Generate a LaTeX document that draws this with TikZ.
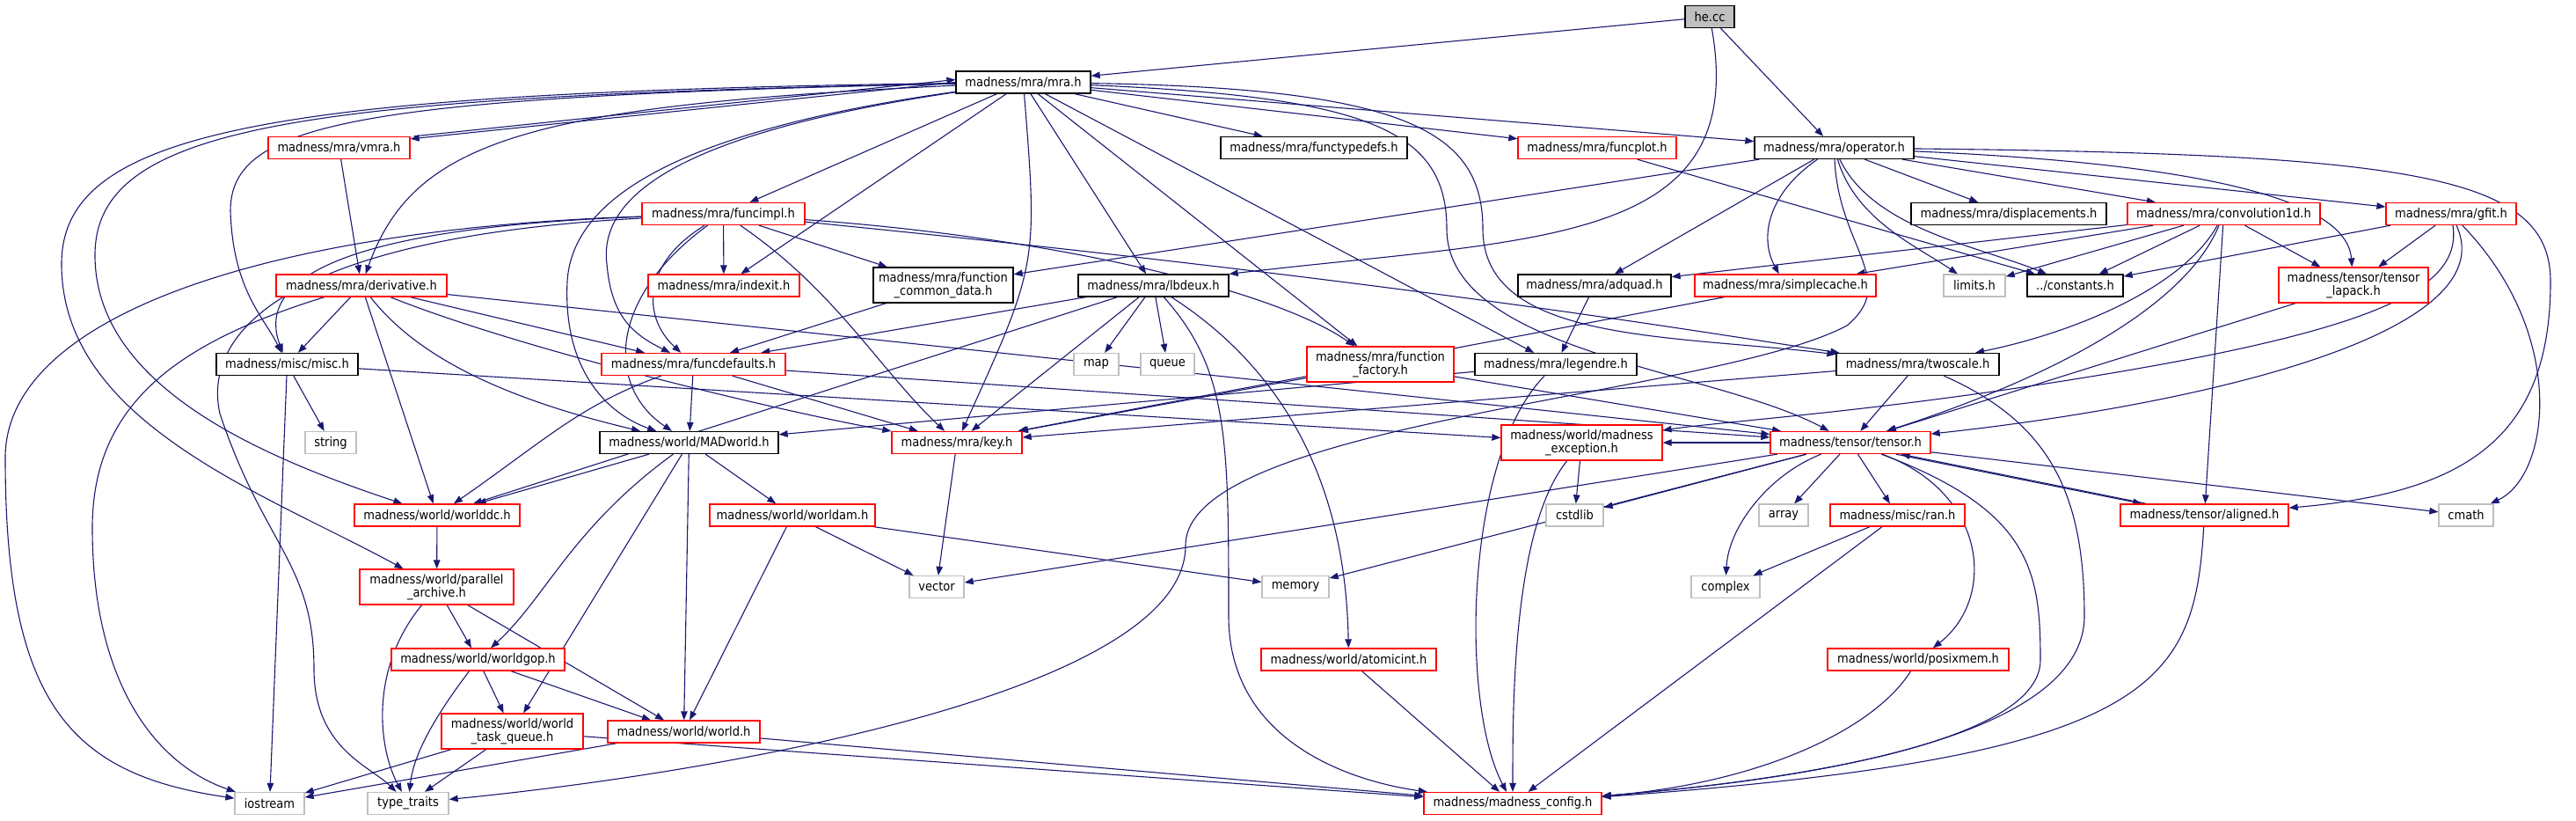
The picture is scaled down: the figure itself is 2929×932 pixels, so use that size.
\documentclass[tikz,border=0pt]{standalone}
\usepackage{fontspec}
\setmainfont{DejaVu Sans Condensed}
\usetikzlibrary{arrows.meta}
\definecolor{edgeblue}{HTML}{191970}
\definecolor{sysgray}{HTML}{BFBFBF}
\pgfdeclarelayer{background}
\pgfsetlayers{background,main}
\tikzset{
  every picture/.style={line width=1pt},
  blk/.style={draw=black,fill=white,line width=1.3pt,minimum height=25pt,inner xsep=1pt,inner ysep=1pt,align=center,font=\fontsize{14.5}{14.5}\selectfont},
  rbx/.style={blk,draw=red},
  sys/.style={blk,draw=sysgray},
  src/.style={blk,fill=sysgray},
  two/.style={minimum height=40pt},
  dep/.style={-{Triangle[length=10pt,width=7.5pt]},color=edgeblue,line width=1.1pt},
}

\begin{document}
\begin{tikzpicture}[x=1pt,y=-1pt]
\useasboundingbox (0,0) rectangle (2929,932);
% headers, row by row
\node[src,minimum width=56pt] (hecc) at (1944,19) {he.cc};
\node[blk,minimum width=153pt] (mra) at (1163.5,93.5) {madness/mra/mra.h};
\node[rbx,minimum width=161pt] (vmra) at (385.5,168) {madness/mra/vmra.h};
\node[blk,minimum width=212pt] (ftypedefs) at (1494,168) {madness/mra/functypedefs.h};
\node[rbx,minimum width=180pt] (fplot) at (1816,168) {madness/mra/funcplot.h};
\node[blk,minimum width=181pt] (oper) at (2085.5,168) {madness/mra/operator.h};
\node[rbx,minimum width=185pt] (fimpl) at (822.5,243) {madness/mra/funcimpl.h};
\node[blk,minimum width=222pt] (displ) at (2284,243) {madness/mra/displacements.h};
\node[rbx,minimum width=219pt] (conv) at (2528.5,243) {madness/mra/convolution1d.h};
\node[rbx,minimum width=148pt] (gfit) at (2787,243) {madness/mra/gfit.h};
\node[rbx,minimum width=194pt] (deriv) at (411,324.5) {madness/mra/derivative.h};
\node[rbx,minimum width=172pt] (indexit) at (823,324.5) {madness/mra/indexit.h};
\node[blk,two,minimum width=159pt] (fcommon) at (1072.5,324) {madness/mra/function\\\_common\_data.h};
\node[blk,minimum width=171pt] (lbdeux) at (1311.5,324.5) {madness/mra/lbdeux.h};
\node[blk,minimum width=174pt] (adquad) at (1813,324.5) {madness/mra/adquad.h};
\node[rbx,minimum width=206pt] (scache) at (2030,324.5) {madness/mra/simplecache.h};
\node[sys,minimum width=70pt] (limits) at (2245,324.5) {limits.h};
\node[blk,minimum width=109pt] (consts) at (2359.5,324.5) {../constants.h};
\node[rbx,two,minimum width=170pt] (tlapack) at (2676,324) {madness/tensor/tensor\\\_lapack.h};
\node[blk,minimum width=161pt] (misc) at (326.5,414) {madness/misc/misc.h};
\node[rbx,minimum width=209pt] (fdefaults) at (788.5,414) {madness/mra/funcdefaults.h};
\node[sys,minimum width=51pt] (map) at (1246.5,414) {map};
\node[sys,minimum width=61pt] (queue) at (1327.5,414) {queue};
\node[rbx,two,minimum width=167pt] (ffactory) at (1569.5,414) {madness/mra/function\\\_factory.h};
\node[blk,minimum width=184pt] (legendre) at (1769,414) {madness/mra/legendre.h};
\node[blk,minimum width=185pt] (twoscale) at (2180.5,414) {madness/mra/twoscale.h};
\node[sys,minimum width=58pt] (string) at (376,503) {string};
\node[blk,minimum width=203pt] (madworld) at (783.5,503) {madness/world/MADworld.h};
\node[rbx,minimum width=148pt] (key) at (1088,503) {madness/mra/key.h};
\node[rbx,two,minimum width=183pt] (mexc) at (1798.5,503) {madness/world/madness\\\_exception.h};
\node[rbx,minimum width=182pt] (tensor) at (2104,503) {madness/tensor/tensor.h};
\node[rbx,minimum width=188pt] (worlddc) at (497,585.5) {madness/world/worlddc.h};
\node[rbx,minimum width=188pt] (worldam) at (901,585.5) {madness/world/worldam.h};
\node[sys,minimum width=65pt] (cstdlib) at (1790.5,585.5) {cstdlib};
\node[sys,minimum width=56pt] (array) at (2028,585.5) {array};
\node[rbx,minimum width=153pt] (ran) at (2157.5,585.5) {madness/misc/ran.h};
\node[rbx,minimum width=191pt] (aligned) at (2506.5,585.5) {madness/tensor/aligned.h};
\node[sys,minimum width=62pt] (cmath) at (2804,585.5) {cmath};
\node[rbx,two,minimum width=175pt] (parchive) at (496.5,667) {madness/world/parallel\\\_archive.h};
\node[sys,minimum width=62pt] (vector) at (1065,667) {vector};
\node[sys,minimum width=76pt] (memory) at (1473,667) {memory};
\node[sys,minimum width=78pt] (complex) at (1962,667) {complex};
\node[rbx,minimum width=197pt] (worldgop) at (543.5,749.5) {madness/world/worldgop.h};
\node[rbx,minimum width=199pt] (atomicint) at (1533.5,749.5) {madness/world/atomicint.h};
\node[rbx,minimum width=206pt] (posixmem) at (2181,749.5) {madness/world/posixmem.h};
\node[rbx,two,minimum width=161pt] (wtq) at (582.5,831) {madness/world/world\\\_task\_queue.h};
\node[rbx,minimum width=173pt] (world) at (777.5,831.5) {madness/world/world.h};
\node[sys,minimum width=79pt] (iostream) at (306.5,913) {iostream};
\node[sys,minimum width=92pt] (ttraits) at (464,913) {type\_traits};
\node[rbx,minimum width=202pt] (mconfig) at (1720,913) {madness/madness\_config.h};
\begin{pgfonlayer}{background}
% he.cc
\draw[dep] (hecc) -- (mra);
\draw[dep] (hecc) -- (oper);
\draw[dep] (hecc) .. controls (1990,280) and (1750,270) .. (lbdeux.north east);
% mra.h
\draw[dep] (mra.west) -- ([yshift=-3pt]vmra.north east);
\draw[dep] ([xshift=4pt]vmra.north east) -- ([yshift=3pt]mra.west);
\draw[dep] (mra) .. controls (600,120) and (470,160) .. (deriv);
\draw[dep] (mra) .. controls (400,110) and (262,140) .. (262,240) .. controls (265,330) and (300,360) .. (misc);
\draw[dep] (mra) .. controls (350,110) and (108,140) .. (108,290) .. controls (108,440) and (300,520) .. (worlddc);
\draw[dep] (mra) .. controls (300,105) and (70,150) .. (70,300) .. controls (70,480) and (300,560) .. (parchive);
\draw[dep] (mra) -- (fimpl);
\draw[dep] (mra) -- (indexit);
\draw[dep] (mra) .. controls (780,150) and (680,220) .. (690,300) .. controls (695,360) and (720,380) .. (fdefaults);
\draw[dep] (mra) .. controls (760,150) and (650,230) .. (645,320) .. controls (640,420) and (690,470) .. (madworld);
\draw[dep] (mra) .. controls (1180,300) .. (key);
\draw[dep] (mra) -- (lbdeux);
\draw[dep] (mra) -- (ffactory);
\draw[dep] (mra) -- (legendre);
\draw[dep] (mra) .. controls (1600,100) and (1686,150) .. (1686,260) .. controls (1686,390) and (1900,380) .. (twoscale);
\draw[dep] (mra) .. controls (1560,110) and (1645,150) .. (1645,260) .. controls (1645,400) and (1950,420) .. (tensor);
\draw[dep] (mra) -- (ftypedefs);
\draw[dep] (mra) -- (fplot);
\draw[dep] (mra) -- (oper);
\draw[dep] (vmra) -- (deriv);
% funcimpl.h
\draw[dep] (fimpl) .. controls (300,260) and (6,360) .. (6,520) .. controls (6,800) and (80,880) .. (iostream);
\draw[dep] (fimpl) .. controls (320,270) and (230,380) .. (250,470) .. controls (300,620) and (357,640) .. (357,760) .. controls (357,850) and (420,870) .. (ttraits);
\draw[dep] (fimpl) .. controls (350,260) and (295,330) .. (misc);
\draw[dep] (fimpl) .. controls (690,340) and (690,440) .. (madworld);
\draw[dep] (fimpl) .. controls (730,300) and (730,360) .. (fdefaults);
\draw[dep] (fimpl) -- (indexit);
\draw[dep] (fimpl) -- (fcommon);
\draw[dep] (fimpl) .. controls (950,330) and (1000,420) .. (key);
\draw[dep] (fimpl) .. controls (1200,270) and (1450,330) .. (ffactory);
\draw[dep] (fimpl) .. controls (1600,320) and (1950,380) .. (twoscale);
% derivative.h
\draw[dep] (deriv) .. controls (200,390) and (105,460) .. (105,600) .. controls (105,780) and (180,870) .. (iostream);
\draw[dep] (deriv) -- (misc);
\draw[dep] (deriv) -- (worlddc);
\draw[dep] (deriv) .. controls (470,400) and (560,450) .. (madworld);
\draw[dep] (deriv) .. controls (600,400) and (900,470) .. (key);
\draw[dep] (deriv) -- (fdefaults);
\draw[dep] (deriv) -- (tensor);
% misc.h, funcdefaults.h, lbdeux.h
\draw[dep] (misc) -- (iostream);
\draw[dep] (misc) -- (string);
\draw[dep] (misc) -- (mexc);
\draw[dep] (fdefaults) -- (madworld);
\draw[dep] (fdefaults) .. controls (660,460) and (620,500) .. (worlddc);
\draw[dep] (fdefaults) -- (key);
\draw[dep] (fdefaults) -- (tensor);
\draw[dep] (fcommon) -- (fdefaults);
\draw[dep] (lbdeux) -- (fdefaults);
\draw[dep] (lbdeux) -- (worlddc);
\draw[dep] (lbdeux) -- (key);
\draw[dep] (lbdeux) -- (map);
\draw[dep] (lbdeux) -- (queue);
\draw[dep] (lbdeux) .. controls (1397,420) and (1397,500) .. (1397,700) .. controls (1397,850) and (1550,890) .. (mconfig);
\draw[dep] (lbdeux) .. controls (1460,420) and (1530,550) .. (atomicint);
% operator.h
\draw[dep] (oper) -- (fcommon);
\draw[dep] (oper) -- (adquad);
\draw[dep] (oper) .. controls (2010,220) and (2000,270) .. (scache);
\draw[dep] (oper) .. controls (2090,280) and (2160,320) .. (2100,370) .. controls (1950,450) and (1348,480) .. (1348,620) .. controls (1348,790) and (800,880) .. (ttraits);
\draw[dep] (oper) .. controls (2110,250) and (2180,280) .. (limits);
\draw[dep] (oper) .. controls (2130,260) and (2250,280) .. (consts);
\draw[dep] (oper) -- (displ);
\draw[dep] (oper) -- (conv);
\draw[dep] (oper) -- (gfit);
\draw[dep] (oper) .. controls (2600,190) and (2670,250) .. (tlapack);
\draw[dep] (oper) .. controls (2750,175) and (2900,200) .. (2900,320) .. controls (2900,500) and (2800,560) .. (aligned);
\draw[dep] (fplot) -- (consts);
% convolution1d.h, gfit.h
\draw[dep] (conv) -- (adquad);
\draw[dep] (conv) -- (scache);
\draw[dep] (conv) -- (limits);
\draw[dep] (conv) -- (consts);
\draw[dep] (conv) .. controls (2480,330) and (2350,380) .. (twoscale);
\draw[dep] (conv) .. controls (2480,360) and (2300,440) .. (tensor);
\draw[dep] (conv) -- (aligned);
\draw[dep] (conv) -- (tlapack);
\draw[dep] (gfit) -- (consts);
\draw[dep] (gfit) -- (tlapack);
\draw[dep] (gfit) .. controls (2800,330) and (2700,380) .. (2300,440) .. controls (2100,470) and (1950,480) .. (mexc);
\draw[dep] (gfit) .. controls (2850,380) and (2500,460) .. (tensor);
\draw[dep] (gfit) .. controls (2920,380) and (2900,540) .. (cmath);
\draw[dep] (tlapack) -- (tensor);
% middle rows
\draw[dep] (scache) -- (key);
\draw[dep] (adquad) -- (legendre);
\draw[dep] (legendre) -- (madworld);
\draw[dep] (legendre) .. controls (1665,520) and (1660,800) .. (mconfig);
\draw[dep] (ffactory) -- (key);
\draw[dep] (ffactory) -- (tensor);
\draw[dep] (twoscale) -- (tensor);
\draw[dep] (twoscale) -- (key);
\draw[dep] (twoscale) .. controls (2330,480) and (2370,560) .. (2370,700) .. controls (2370,850) and (2000,890) .. (mconfig);
% world
\draw[dep] (madworld) -- (worlddc);
\draw[dep] (madworld) -- (worldam);
\draw[dep] (madworld) .. controls (650,600) and (620,680) .. (worldgop);
\draw[dep] (madworld) -- (wtq);
\draw[dep] (madworld) -- (world);
\draw[dep] (key) -- (vector);
\draw[dep] (worlddc) -- (parchive);
\draw[dep] (parchive) -- (worldgop);
\draw[dep] (parchive) -- (world);
\draw[dep] (parchive) .. controls (420,760) and (430,850) .. (ttraits);
\draw[dep] (worldgop) -- (wtq);
\draw[dep] (worldgop) -- (world);
\draw[dep] (worldgop) .. controls (490,820) and (470,860) .. (ttraits);
\draw[dep] (wtq) -- (iostream);
\draw[dep] (wtq) -- (ttraits);
\draw[dep] (wtq) -- (mconfig);
\draw[dep] (world) -- (iostream);
\draw[dep] (world) -- (mconfig);
\draw[dep] (worldam) -- (world);
\draw[dep] (worldam) -- (vector);
\draw[dep] (worldam) -- (memory);
\draw[dep] (mexc) -- (cstdlib);
\draw[dep] (mexc) .. controls (1720,600) and (1720,800) .. (mconfig);
\draw[dep] (atomicint) -- (mconfig);
% tensor.h
\draw[dep] (tensor) -- (vector);
\draw[dep] (tensor) -- (cstdlib);
\draw[dep] (tensor) -- (memory);
\draw[dep] (tensor) .. controls (2010,540) and (1965,600) .. (complex);
\draw[dep] (tensor) -- (array);
\draw[dep] (tensor) -- (ran);
\draw[dep] (tensor) .. controls (2260,560) and (2270,680) .. (posixmem);
\draw[dep] ([xshift=-40pt]tensor.south east) -- ([xshift=25pt]aligned.north west);
\draw[dep] ([xshift=30pt]aligned.north west) -- ([xshift=-34pt]tensor.south east);
\draw[dep] (tensor) -- (cmath);
\draw[dep] (tensor) .. controls (2310,580) and (2320,650) .. (2320,750) .. controls (2320,850) and (2000,890) .. (mconfig);
\draw[dep] (tensor) -- (mexc);
\draw[dep] (aligned) .. controls (2495,780) and (2450,860) .. (mconfig);
\draw[dep] (ran) -- (complex);
\draw[dep] (ran) -- (mconfig);
\draw[dep] (posixmem) .. controls (2130,830) and (2000,890) .. (mconfig);
\end{pgfonlayer}
\end{tikzpicture}
\end{document}
